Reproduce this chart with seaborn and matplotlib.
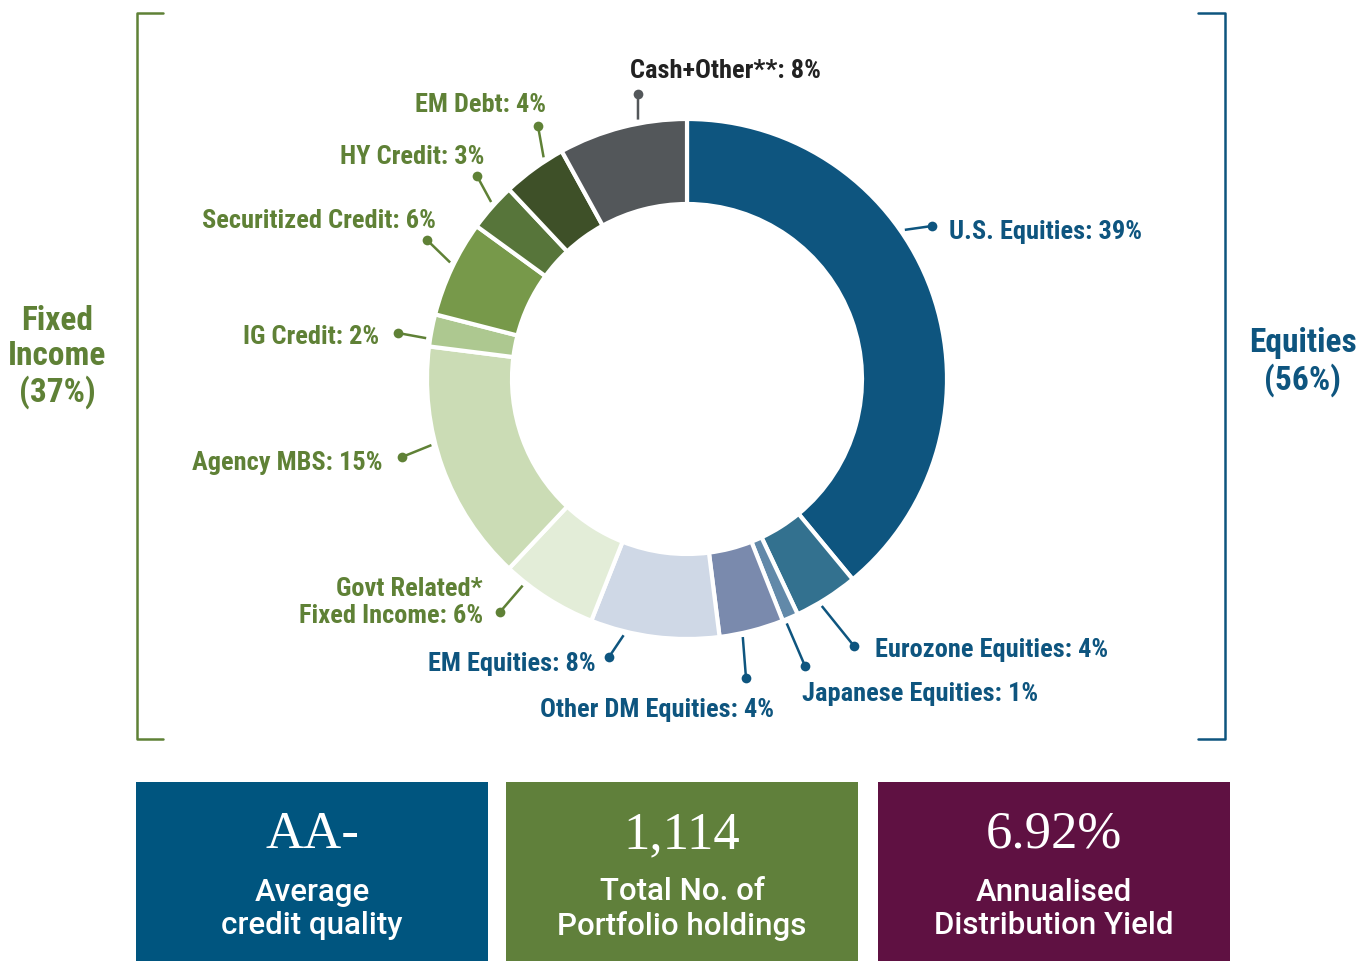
import numpy as np
import matplotlib
matplotlib.use('Agg')
import matplotlib.pyplot as plt
import seaborn as sns
from matplotlib import font_manager
from matplotlib.patches import Rectangle

# --- DATA ---
categories = ['U.S. Equities', 'Eurozone Equities', 'Japanese Equities', 'Other DM Equities',
              'EM Equities', 'Govt Related*\nFixed Income', 'Agency MBS', 'IG Credit',
              'Securitized Credit', 'HY Credit', 'EM Debt', 'Cash+Other**']
weights = [39, 4, 1, 4, 8, 6, 15, 2, 6, 3, 4, 8]
slice_colors = ['#0e557f', '#33718f', '#6289a9', '#7a8aad', '#cfd8e6', '#e3edd8',
                '#cbdcb5', '#adc890', '#77994a', '#57753a', '#3e5028', '#53575a']
group_names = ['Fixed\nIncome', 'Equities']
group_totals = [37, 56]
stat_values = ['AA-', '1,114', '6.92%']
stat_captions = ['Average\ncredit quality', 'Total No. of\nPortfolio holdings',
                 'Annualised\nDistribution Yield']

BLUE = '#0e557f'
GREEN = '#5f8136'
DARK = '#222222'
label_colors = [BLUE] * 5 + [GREEN] * 6 + [DARK]
line_colors = [BLUE] * 5 + [GREEN] * 6 + ['#53575a']

# label layout (pixel coords, y down): text x, text y, ha, leader angle, dot x, dot y
layout = [
    (949, 229, 'left', 55.6, 932, 227),
    (875, 648, 'left', 149.3, 854, 647),
    (802, 692, 'left', 157.8, 805, 667),
    (657, 708, 'center', 167.8, 746, 679),
    (596, 661, 'right', 193.9, 609, 658),
    (483, 599, 'right', 218.5, 500, 613),
    (383, 461, 'right', 255.5, 402, 458),
    (379, 334, 'right', 278.9, 398, 334),
    (436, 219, 'right', 296.2, 427, 241),
    (484, 154, 'right', 312.1, 477, 177),
    (546, 103, 'right', 327.1, 538, 127),
    (725, 69, 'center', 349.3, 638, 95),
]

W, H = 1357, 962
CX, CY, R, RING = 687, 380, 260, 85

sns.set_theme(style='white')

# narrow face if available, else Roboto
try:
    font_manager.findfont('Roboto Condensed', fallback_to_default=False)
    LABEL_FAMILY, LABEL_SIZE, GROUP_SIZE = ['Roboto Condensed', 'DejaVu Sans'], 19, 24
except Exception:
    LABEL_FAMILY, LABEL_SIZE, GROUP_SIZE = ['Roboto', 'DejaVu Sans'], 17, 20
plt.rcParams['font.family'] = LABEL_FAMILY

fig = plt.figure(figsize=(W / 100, H / 100), dpi=100)
ax = fig.add_axes([0, 0, 1, 1])


def Y(y):
    return H - y


# --- DONUT ---
ax.pie(weights, colors=slice_colors, startangle=90, counterclock=False,
       center=(CX, Y(CY)), radius=R, frame=True,
       wedgeprops=dict(width=RING, edgecolor='white', linewidth=3))

# --- LABELS + LEADERS ---
for name, w, col, lcol, (tx, ty, ha, ang, dx, dy) in zip(categories, weights, label_colors,
                                                           line_colors, layout):
    a = np.deg2rad(ang)
    sx = CX + (R + 4) * np.sin(a)
    sy = CY - (R + 4) * np.cos(a)
    ax.plot([sx, dx], [Y(sy), Y(dy)], color=lcol, lw=1.8, solid_capstyle='butt')
    ax.plot(dx, Y(dy), 'o', color=lcol, ms=7, mec='none')
    ax.text(tx, Y(ty), f'{name}: {w}%', ha=ha, va='center_baseline', color=col,
            fontsize=LABEL_SIZE, fontweight='bold', multialignment='right', linespacing=1.15)

# --- BRACKETS ---
ax.plot([163, 137, 137, 163], [Y(14), Y(14), Y(740), Y(740)], color=GREEN, lw=1.8)
ax.plot([1198, 1225, 1225, 1198], [Y(14), Y(14), Y(740), Y(740)], color=BLUE, lw=1.8)
ax.text(57, Y(357), f'{group_names[0]}\n({group_totals[0]}%)', ha='center', va='center',
        color=GREEN, fontsize=GROUP_SIZE, fontweight='bold', linespacing=1.12)
ax.text(1303, Y(362), f'{group_names[1]}\n({group_totals[1]}%)', ha='center', va='center',
        color=BLUE, fontsize=GROUP_SIZE, fontweight='bold', linespacing=1.12)

# --- STAT BOXES ---
box_colors = ['#00557f', '#60803b', '#5f1142']
box_x = [136, 506, 878]
for x0, bc, val, cap in zip(box_x, box_colors, stat_values, stat_captions):
    ax.add_patch(Rectangle((x0, 0), 352, Y(783), color=bc, lw=0))
    ax.text(x0 + 176, Y(835), val, ha='center', va='center', color='white',
            fontsize=38, family='Liberation Serif')
    ax.text(x0 + 176, Y(909), cap, ha='center', va='center', color='white',
            fontsize=22.5, family=['Roboto', 'DejaVu Sans'], fontweight='medium',
            linespacing=1.17)

ax.set_xlim(0, W)
ax.set_ylim(0, H)
ax.set_aspect('auto')
ax.axis('off')

fig.savefig('out.png', dpi=100)
